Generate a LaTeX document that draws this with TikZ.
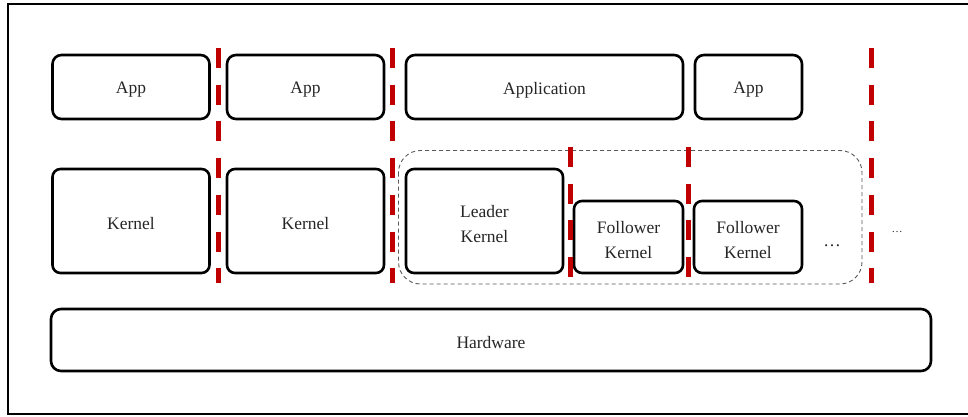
\documentclass[tikz,border=0pt]{standalone}
\usepackage{fontspec}
\setmainfont{Liberation Serif}
\definecolor{sepred}{RGB}{192,0,0}
\definecolor{grpgray}{RGB}{90,90,90}
\tikzset{
  box/.style={draw=black, line width=2.6pt, rounded corners=9pt, inner sep=0pt, outer sep=0pt,
              align=center, font=\fontsize{17.5}{25}\selectfont, text=black!85},
  sep/.style={draw=sepred, line width=5pt, dash pattern=on 20pt off 16.7pt},
  grp/.style={draw=grpgray, line width=0.9pt, dash pattern=on 4pt off 3pt, rounded corners=22pt},
  frame/.style={draw=black, line width=2pt},
  lbl/.style={inner sep=0pt, font=\fontsize{17.5}{25}\selectfont, text=black!85}
}
% lower a label slightly inside its box without changing the box layout
\newcommand{\dn}[1]{\raisebox{-3pt}[\height][\depth]{#1}}
\begin{document}
\begin{tikzpicture}[x=1pt,y=-1pt]
\useasboundingbox (0,0) rectangle (968,416);
\fill[white] (0,0) rectangle (968,416);
% outer frame
\draw[frame] (8,4) rectangle (975,414);

% application layer
\node[box, minimum width=157pt, minimum height=64pt] (app1) at (131,87) {\dn{App}};
\node[box, minimum width=157pt, minimum height=64pt] (app2) at (305.5,87) {\dn{App}};
\node[box, minimum width=277pt, minimum height=64pt] (appl) at (544.5,87) {\dn{Application}};
\node[box, minimum width=107pt, minimum height=64pt] (app4) at (748.5,87) {\dn{App}};

% kernel layer
\node[box, minimum width=157pt, minimum height=104pt, rounded corners=8pt] (k1) at (131,221) {\dn{Kernel}};
\node[box, minimum width=157pt, minimum height=104pt, rounded corners=8pt] (k2) at (305.5,221) {\dn{Kernel}};

% multi-kernel group
\draw[grp] (398.5,150.5) rectangle (862,284);
\node[box, minimum width=157pt, minimum height=104pt, rounded corners=8pt] (lk) at (484.5,221) {\dn{Leader}\\\dn{Kernel}};
\node[box, minimum width=109pt, minimum height=72pt, rounded corners=8pt] (f1) at (628.5,237) {\dn{Follower}\\\dn{Kernel}};
\node[box, minimum width=108pt, minimum height=72pt, rounded corners=8pt] (f2) at (748,237) {\dn{Follower}\\\dn{Kernel}};
\node[lbl] (dots1) at (832,246) {\dots};
\node[lbl, font=\fontsize{11}{13}\selectfont] (dots2) at (897,232) {\dots};

% hardware
\node[box, minimum width=880pt, minimum height=62pt, rounded corners=10pt] (hw) at (491,340) {\dn{Hardware}};

% isolation boundaries
\coordinate (s1t) at (218,48);   \coordinate (s1b) at (218,283);
\coordinate (s2t) at (392.5,48); \coordinate (s2b) at (392.5,283);
\coordinate (s3t) at (570,147);  \coordinate (s3b) at (570,283);
\coordinate (s4t) at (688,147);  \coordinate (s4b) at (688,283);
\coordinate (s5t) at (871,48);   \coordinate (s5b) at (871,283);
\draw[sep] (s1t) -- (s1b);
\draw[sep] (s2t) -- (s2b);
\draw[sep] (s3t) -- (s3b);
\draw[sep] (s4t) -- (s4b);
\draw[sep] (s5t) -- (s5b);
\end{tikzpicture}
\end{document}
